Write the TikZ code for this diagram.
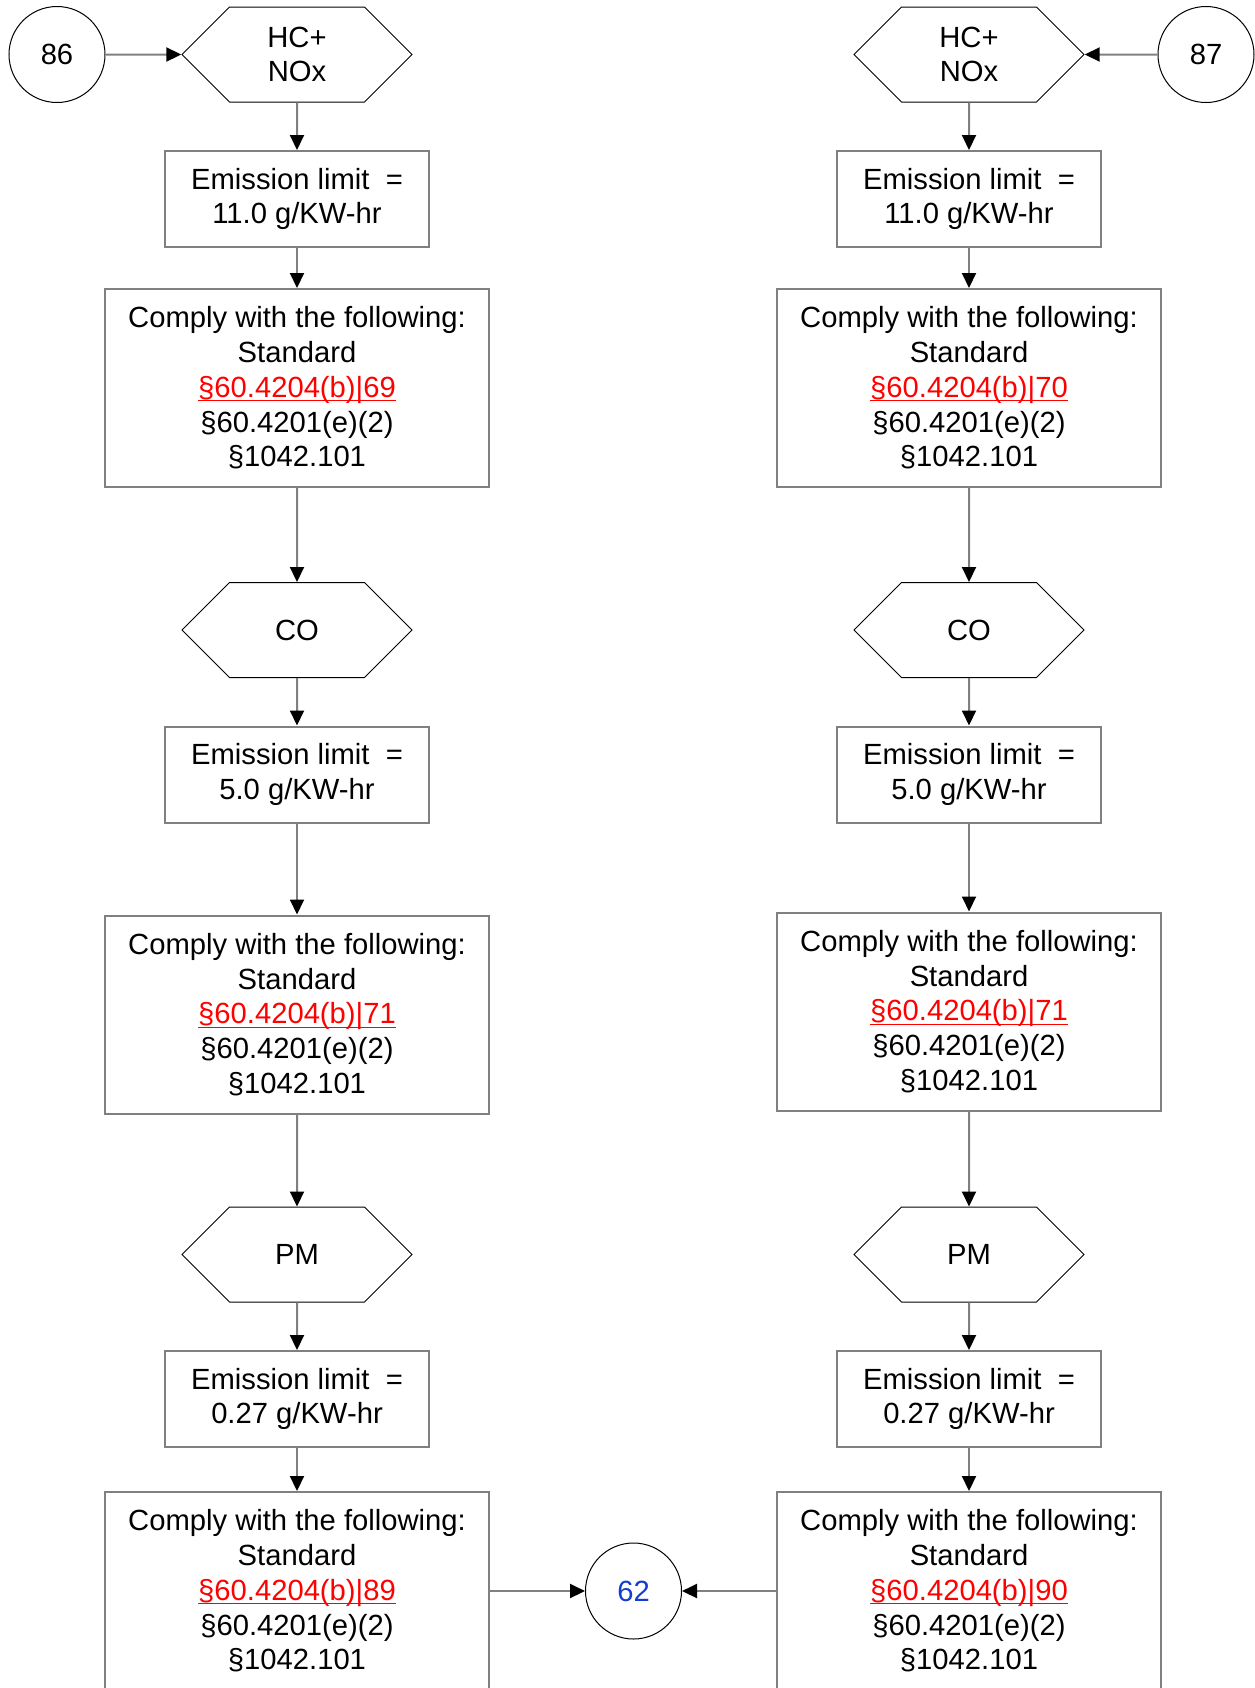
\documentclass[tikz,border=0pt]{standalone}
\usepackage{fontspec}
\setmainfont{Liberation Sans}
\usetikzlibrary{arrows.meta, shapes.symbols}
\definecolor{linegray}{RGB}{128,128,128}
\definecolor{refred}{RGB}{255,0,0}
\definecolor{refblue}{RGB}{20,60,210}
\newcommand{\stdref}[1]{\textcolor{refred}{\setbox0\hbox{\S60.4204(b)|#1}%
  \rlap{\rule[-2pt]{\wd0}{0.6pt}}\box0}}
\newcommand{\complytext}[1]{Comply with the following:\\Standard\\\stdref{#1}\\\S60.4201(e)(2)\\\S1042.101}

\begin{document}
\begin{tikzpicture}[
      x=0.5pt, y=-0.5pt,
      every node/.style={font=\fontsize{14.6}{17.4}\selectfont},
      box/.style={draw=linegray, line width=1pt, align=center, inner sep=0pt},
      limit/.style={box, minimum width=132pt, minimum height=48pt},
      comply/.style={box, minimum width=192pt, minimum height=99pt},
      gas/.style={signal, signal to=west and east, signal pointer angle=90,
                  draw, line width=0.5pt, align=center, inner sep=0pt,
                  minimum width=115pt, minimum height=47.5pt},
      conn/.style={circle, draw, line width=0.5pt, minimum size=48pt, inner sep=0pt},
      flow/.style={draw=linegray, line width=1pt,
                   -{Triangle[length=7.5pt, width=7pt, color=black, fill=black]}}]
    \useasboundingbox (0,0) rectangle (1254,1688);
    % left column
    \node[conn] (c86) at (57,54.5) {86};
    \node[gas] (hcL) at (297,54.5) {HC+\\NOx};
    \node[limit] (emL1) at (297,199) {Emission limit~ =\\11.0 g/KW-hr};
    \node[comply] (cmpL1) at (297,388) {\complytext{69}};
    \node[gas] (coL) at (297,630) {CO};
    \node[limit] (emL2) at (297,774.5) {Emission limit~ =\\5.0 g/KW-hr};
    \node[comply] (cmpL2) at (297,1014.5) {\complytext{71}};
    \node[gas] (pmL) at (297,1254.5) {PM};
    \node[limit] (emL3) at (297,1399) {Emission limit~ =\\0.27 g/KW-hr};
    \node[comply] (cmpL3) at (297,1591) {\complytext{89}};
    % right column
    \node[conn] (c87) at (1206,54.5) {87};
    \node[gas] (hcR) at (969,54.5) {HC+\\NOx};
    \node[limit] (emR1) at (969,199) {Emission limit~ =\\11.0 g/KW-hr};
    \node[comply] (cmpR1) at (969,388) {\complytext{70}};
    \node[gas] (coR) at (969,630) {CO};
    \node[limit] (emR2) at (969,774.5) {Emission limit~ =\\5.0 g/KW-hr};
    \node[comply] (cmpR2) at (969,1011.5) {\complytext{71}};
    \node[gas] (pmR) at (969,1254.5) {PM};
    \node[limit] (emR3) at (969,1399) {Emission limit~ =\\0.27 g/KW-hr};
    \node[comply] (cmpR3) at (969,1591) {\complytext{90}};
    % off-page connector
    \node[conn, text=refblue] (c62) at (633.5,1591) {62};

    \draw[flow] (c86) -- (hcL);
    \draw[flow] (hcL) -- (emL1);
    \draw[flow] (emL1) -- (cmpL1);
    \draw[flow] (cmpL1) -- (coL);
    \draw[flow] (coL) -- (emL2);
    \draw[flow] (emL2) -- (cmpL2);
    \draw[flow] (cmpL2) -- (pmL);
    \draw[flow] (pmL) -- (emL3);
    \draw[flow] (emL3) -- (cmpL3);
    \draw[flow] (cmpL3) -- (c62);

    \draw[flow] (c87) -- (hcR);
    \draw[flow] (hcR) -- (emR1);
    \draw[flow] (emR1) -- (cmpR1);
    \draw[flow] (cmpR1) -- (coR);
    \draw[flow] (coR) -- (emR2);
    \draw[flow] (emR2) -- (cmpR2);
    \draw[flow] (cmpR2) -- (pmR);
    \draw[flow] (pmR) -- (emR3);
    \draw[flow] (emR3) -- (cmpR3);
    \draw[flow] (cmpR3) -- (c62);
\end{tikzpicture}
\end{document}
